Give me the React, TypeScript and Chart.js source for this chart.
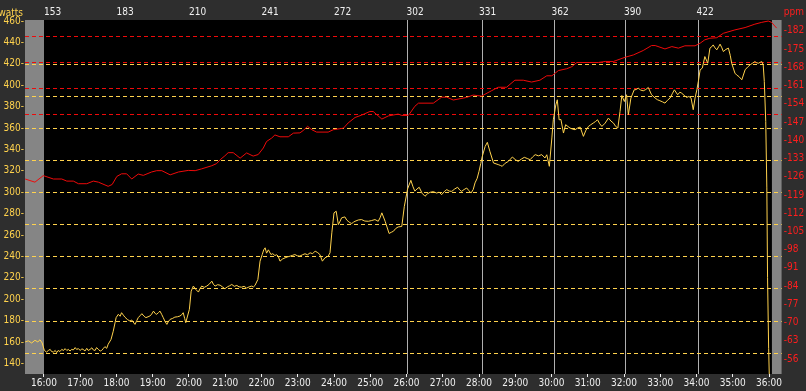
import React, { useEffect, useRef } from "react";
import { Chart, registerables } from "chart.js";

Chart.register(...registerables);

// ---------- data ----------
const minuteTicks = [16, 17, 18, 19, 20, 21, 22, 23, 24, 25, 26, 27, 28, 29, 30, 31, 32, 33, 34, 35, 36];
const lapLabelMinutes = [16, 18, 20, 22, 24, 26, 28, 30, 32, 34];
const lapLabels = ["153", "183", "210", "241", "272", "302", "331", "362", "390", "422"];
const lapLineMinutes = [26.02, 28.08, 30.06, 32.04, 34.05];
const wattTicks = [140, 160, 180, 200, 220, 240, 260, 280, 300, 320, 340, 360, 380, 400, 420, 440, 460];
const wattGrid = [150, 180, 210, 240, 270, 300, 330, 360, 390, 420];
const ppmTicks = [56, 63, 70, 77, 84, 91, 98, 105, 112, 119, 126, 133, 140, 147, 154, 161, 168, 175, 182];
const ppmZones = [150, 160, 170, 180];
const activeStart = 16;
const activeEnd = 36.08;
const timeRange = [15.476, 36.35];
const wattRange = [130, 461];
const ppmRange = [50.3, 186.1];

const powerMinutes = [
  15.48, 15.57, 15.66, 15.75, 15.83, 15.89, 15.95, 16.01, 16.07, 16.12, 16.17, 16.21, 16.26, 16.31, 16.35, 16.39,
  16.44, 16.49, 16.54, 16.58, 16.63, 16.67, 16.72, 16.76, 16.81, 16.86, 16.9, 16.95, 17.0, 17.04, 17.08, 17.13,
  17.18, 17.22, 17.27, 17.32, 17.36, 17.41, 17.45, 17.5, 17.55, 17.59, 17.64, 17.68, 17.73, 17.77, 17.85, 17.91,
  17.99, 18.05, 18.1, 18.14, 18.19, 18.23, 18.3, 18.37, 18.42, 18.46, 18.51, 18.56, 18.6, 18.65, 18.7, 18.76,
  18.81, 18.87, 18.92, 18.97, 19.02, 19.07, 19.11, 19.16, 19.2, 19.25, 19.29, 19.34, 19.39, 19.43, 19.48, 19.55,
  19.61, 19.68, 19.75, 19.8, 19.84, 19.88, 19.91, 19.96, 20.01, 20.06, 20.12, 20.19, 20.26, 20.3, 20.35, 20.42,
  20.49, 20.56, 20.63, 20.67, 20.72, 20.79, 20.86, 20.92, 20.99, 21.06, 21.12, 21.18, 21.25, 21.32, 21.38, 21.45,
  21.52, 21.59, 21.66, 21.73, 21.78, 21.82, 21.9, 21.96, 22.02, 22.06, 22.1, 22.14, 22.19, 22.26, 22.31, 22.37,
  22.42, 22.46, 22.51, 22.58, 22.65, 22.72, 22.79, 22.86, 22.92, 22.99, 23.06, 23.13, 23.2, 23.27, 23.34, 23.41,
  23.48, 23.55, 23.61, 23.68, 23.75, 23.84, 23.89, 23.94, 24.0, 24.06, 24.12, 24.17, 24.21, 24.3, 24.35, 24.39,
  24.44, 24.49, 24.54, 24.58, 24.67, 24.76, 24.85, 24.95, 25.04, 25.13, 25.22, 25.27, 25.32, 25.41, 25.52, 25.58,
  25.64, 25.7, 25.77, 25.87, 25.94, 26.03, 26.12, 26.18, 26.23, 26.29, 26.35, 26.43, 26.51, 26.58, 26.65, 26.74,
  26.83, 26.9, 26.97, 27.04, 27.11, 27.18, 27.25, 27.33, 27.41, 27.47, 27.52, 27.59, 27.66, 27.72, 27.78, 27.84,
  27.89, 27.95, 28.0, 28.05, 28.09, 28.17, 28.23, 28.3, 28.4, 28.47, 28.53, 28.59, 28.64, 28.72, 28.81, 28.87,
  28.92, 29.0, 29.08, 29.17, 29.25, 29.33, 29.41, 29.48, 29.55, 29.64, 29.73, 29.82, 29.87, 29.94, 30.01, 30.05,
  30.12, 30.16, 30.21, 30.26, 30.33, 30.39, 30.45, 30.51, 30.58, 30.65, 30.72, 30.79, 30.88, 30.95, 31.02, 31.08,
  31.15, 31.21, 31.27, 31.33, 31.39, 31.48, 31.57, 31.64, 31.71, 31.77, 31.83, 31.89, 31.94, 32.01, 32.07, 32.12,
  32.19, 32.28, 32.34, 32.39, 32.46, 32.53, 32.6, 32.67, 32.76, 32.86, 32.92, 32.99, 33.06, 33.13, 33.2, 33.27,
  33.33, 33.39, 33.48, 33.54, 33.59, 33.66, 33.73, 33.79, 33.85, 33.91, 33.96, 34.01, 34.05, 34.1, 34.16, 34.23,
  34.31, 34.37, 34.42, 34.46, 34.51, 34.56, 34.61, 34.65, 34.7, 34.74, 34.81, 34.88, 34.93, 34.97, 35.06, 35.11,
  35.17, 35.25, 35.34, 35.41, 35.48, 35.54, 35.61, 35.66, 35.71, 35.76, 35.8, 35.84, 35.87, 35.91, 35.94, 35.96,
  35.99, 36.01,
];
const powerWatts = [
  160, 161, 159, 161.5, 160, 162, 159, 152, 150.5, 152, 153, 151, 150.5, 152, 150, 152,
  151, 153, 152, 153.7, 152, 153, 151.5, 153, 152.5, 154.7, 153, 153.7, 152, 153.5, 153, 151.5,
  154, 152, 153, 154.5, 152.5, 152, 154.7, 153, 151.5, 152, 154, 155.6, 154, 157.8, 162.4, 170,
  182.7, 185.8, 184, 187.3, 185, 183.2, 181, 179.5, 180.5, 178.6, 176.4, 180, 182.7, 184.5, 186.4, 184,
  182.7, 183.5, 184.2, 186, 188.8, 186.5, 185.8, 187.5, 188.8, 185.5, 182.7, 179, 176.4, 179, 181.1, 182,
  183.2, 183.5, 184.2, 185.5, 187.3, 182, 178, 184.2, 190.4, 207.5, 212.2, 209, 206.6, 209.5, 212.2, 211,
  212.2, 214, 216.8, 214, 212.2, 213.5, 213, 211.5, 209.7, 211.5, 212.5, 213.7, 212, 212.8, 211.5, 211.2,
  212, 210.3, 211.5, 212.2, 211.5, 212.8, 218.4, 235.5, 241.7, 246, 248, 243, 246.1, 241.7, 242.5, 240.8,
  241.5, 240.2, 235.5, 237.5, 238.6, 239.5, 240.2, 241, 241.7, 240.5, 240.2, 241.5, 242.4, 241.5, 243.3, 242.5,
  244.9, 243.5, 241.7, 235.5, 238.6, 240.2, 243.3, 262, 280.7, 282.2, 269.7, 273, 276, 276.9, 274, 272.8,
  271.5, 270.7, 272, 272.8, 274, 274.4, 273, 272.8, 273.5, 274.4, 272.8, 276, 280.7, 272.8, 261.4, 262.5,
  263.5, 266, 267.5, 268, 286.8, 303, 311.1, 305, 301, 303, 304.6, 299, 296.2, 298.5, 299.9, 300.5,
  299.2, 300, 297.7, 300.5, 302.4, 301, 300.8, 303, 304.6, 302, 300.8, 302.5, 303.9, 301.5, 299.2, 302.5,
  308.7, 313, 319.5, 327, 333.5, 342.8, 346.6, 338.2, 327.3, 326.5, 325.8, 325, 324.2, 327, 328.8, 331,
  332.9, 330.5, 328.8, 331, 332.6, 331.5, 330.4, 333, 335.1, 334, 335.1, 332, 335, 324.2, 350.7, 367.7,
  381.7, 386.4, 367.7, 368, 355.3, 363.1, 361.5, 360, 359, 358.4, 360, 360.9, 352.2, 358, 361.5, 363,
  364.6, 366, 367.7, 364, 361.5, 364.6, 369.3, 366.5, 364.6, 361.5, 360, 375.5, 390.4, 384.8, 391.1, 372.4,
  388, 395.7, 396, 397.3, 395.5, 394.8, 396, 397.9, 391.1, 388, 386.5, 385.5, 384.5, 383.3, 386, 388,
  392, 395.7, 391.1, 393.5, 392.6, 390.5, 388.6, 389.5, 388, 377.1, 388, 395.7, 403.5, 414.4, 416, 426.8,
  420.6, 434.7, 436, 437.7, 435, 433.1, 436, 438.4, 435, 431.5, 433.5, 434.7, 428, 420.6, 411.3, 409.5,
  408.1, 405.1, 414.4, 417, 419.1, 420.5, 422.1, 421, 420.6, 421.5, 422.1, 419.1, 403.5, 366.2, 304, 220,
  154, 125,
];

const hrMinutes = [
  15.48, 15.75, 15.98, 16.26, 16.49, 16.63, 16.81, 16.95, 17.18, 17.36, 17.5, 17.77, 17.88, 18.01, 18.14, 18.28,
  18.42, 18.6, 18.74, 18.97, 19.11, 19.25, 19.48, 19.71, 19.98, 20.17, 20.35, 20.63, 20.76, 20.86, 20.99, 21.08,
  21.22, 21.41, 21.59, 21.77, 21.91, 22.05, 22.14, 22.28, 22.37, 22.51, 22.74, 22.88, 23.06, 23.15, 23.27, 23.39,
  23.52, 23.84, 23.98, 24.26, 24.39, 24.58, 24.76, 24.99, 25.08, 25.32, 25.5, 25.77, 25.87, 26.05, 26.1, 26.23,
  26.33, 26.74, 26.97, 27.11, 27.29, 27.66, 27.84, 28.07, 28.35, 28.53, 28.76, 28.99, 29.22, 29.45, 29.68, 29.87,
  30.01, 30.19, 30.42, 30.56, 30.7, 31.29, 31.48, 31.71, 32.03, 32.26, 32.53, 32.76, 32.86, 33.13, 33.32, 33.5,
  33.68, 33.96, 34.1, 34.23, 34.37, 34.56, 34.74, 35.06, 35.34, 35.61, 35.8, 35.98, 36.07, 36.21,
];
const hrPpm = [
  125.1, 123.9, 126.4, 125.1, 125.1, 124.3, 124.3, 123.3, 123.3, 124.3, 123.9, 122.3, 123, 126.1, 127.1, 127.1,
  125.1, 127, 126.5, 127.8, 128.3, 128.3, 126.7, 127.8, 128.4, 128.3, 129, 130.2, 131, 132.5, 134, 135.2,
  135.2, 133.1, 135.1, 133.9, 134.5, 137, 139.5, 140.8, 142, 141.3, 141.3, 142.7, 142.8, 143.7, 145.3, 144,
  143.1, 143.1, 144, 144.6, 146.6, 148.7, 149.6, 151, 151, 148.1, 149.3, 150, 149.5, 149.5, 150.4, 153,
  154.2, 154.2, 156.5, 156.5, 155.4, 156.4, 157.3, 156.9, 159, 160.3, 160.3, 163, 163, 162.3, 163, 164.7,
  164.7, 166.7, 167.4, 168.2, 169.8, 169.8, 170.2, 170.2, 171.8, 172.7, 174.4, 176.3, 176.3, 175, 175.9, 175.3,
  176.2, 176.2, 177.2, 178.5, 179.1, 179.3, 181, 182.3, 183.2, 184.5, 185.2, 185.7, 185.2, 183,
];

// ---------- styles ----------
const BG = "#2e2e2e";
const PLOT_BG = "#000000";
const REST_GRAY = "#858585";
const LAP_LINE = "#b0b0b0";
const YELLOW = "#ffd24d";
const RED_LINE = "#ee0a0a";
const RED_TEXT = "#ff1e1e";
const WHITE = "#f0f0f0";
const FONT_FAMILY = "'Liberation Sans Narrow', 'DejaVu Sans Condensed', 'Liberation Sans', sans-serif";

const fixedTicks = (values: number[]) => (axis: any) => {
  axis.ticks = values.map((v) => ({ value: v }));
};

const backdropPlugin = {
  id: "backdrop",
  beforeDraw(chart: any) {
    const { ctx, chartArea: a, scales } = chart;
    const x = scales.x;
    const yw = scales.y;
    const yp = scales.yR;
    ctx.save();
    ctx.fillStyle = BG;
    ctx.fillRect(0, 0, chart.width, chart.height);
    ctx.fillStyle = PLOT_BG;
    ctx.fillRect(a.left, a.top, a.right - a.left, a.bottom - a.top);

    const xs = x.getPixelForValue(activeStart);
    const xe = x.getPixelForValue(activeEnd);
    ctx.fillStyle = REST_GRAY;
    ctx.fillRect(a.left, a.top, xs - a.left, a.bottom - a.top);
    ctx.fillRect(xe, a.top, a.right - xe, a.bottom - a.top);

    ctx.lineWidth = 1;
    ctx.strokeStyle = LAP_LINE;
    ctx.setLineDash([]);
    lapLineMinutes.forEach((m) => {
      const px = Math.round(x.getPixelForValue(m)) + 0.5;
      ctx.beginPath();
      ctx.moveTo(px, a.top);
      ctx.lineTo(px, a.bottom);
      ctx.stroke();
    });

    ctx.setLineDash([4, 3]);
    ctx.strokeStyle = YELLOW;
    wattGrid.forEach((w) => {
      const py = Math.round(yw.getPixelForValue(w)) + 0.5;
      ctx.beginPath();
      ctx.moveTo(a.left, py);
      ctx.lineTo(a.right, py);
      ctx.stroke();
    });
    ctx.strokeStyle = RED_LINE;
    ppmZones.forEach((p) => {
      const py = Math.round(yp.getPixelForValue(p)) + 0.5;
      ctx.beginPath();
      ctx.moveTo(a.left, py);
      ctx.lineTo(a.right, py);
      ctx.stroke();
    });
    ctx.setLineDash([]);

    ctx.font = `10px ${FONT_FAMILY}`;
    ctx.textBaseline = "alphabetic";
    ctx.textAlign = "right";
    ctx.fillStyle = YELLOW;
    ctx.fillText("watts", a.left - 2, a.top - 4);
    ctx.textAlign = "left";
    ctx.fillStyle = RED_TEXT;
    ctx.fillText("ppm", a.right + 2, a.top - 5);
    ctx.restore();
  },
};

export default function App() {
  const canvasRef = useRef<HTMLCanvasElement | null>(null);

  useEffect(() => {
    const canvas = canvasRef.current;
    if (!canvas) return;
    const font = { family: FONT_FAMILY, size: 10 };
    const chart = new Chart(canvas, {
      type: "line",
      data: {
        datasets: [
          {
            label: "watts",
            data: powerMinutes.map((m, i) => ({ x: m, y: powerWatts[i] })),
            borderColor: YELLOW,
            borderWidth: 1,
            pointRadius: 0,
            tension: 0,
            xAxisID: "x",
            yAxisID: "y",
          },
          {
            label: "ppm",
            data: hrMinutes.map((m, i) => ({ x: m, y: hrPpm[i] })),
            borderColor: RED_LINE,
            borderWidth: 1,
            pointRadius: 0,
            tension: 0,
            xAxisID: "x",
            yAxisID: "yR",
          },
        ],
      },
      options: {
        animation: false,
        responsive: false,
        maintainAspectRatio: false,
        layout: { padding: 0 },
        plugins: { legend: { display: false }, tooltip: { enabled: false } },
        scales: {
          x: {
            type: "linear",
            position: "bottom",
            min: timeRange[0],
            max: timeRange[1],
            afterBuildTicks: fixedTicks(minuteTicks),
            afterFit: (s: any) => {
              s.height = 17;
            },
            ticks: {
              color: WHITE,
              font,
              padding: 0,
              autoSkip: false,
              maxRotation: 0,
              callback: (v: any) => `${v}:00`,
            },
            grid: { display: true, drawOnChartArea: false, drawTicks: true, tickLength: 3, color: WHITE },
            border: { display: false },
          },
          xTop: {
            type: "linear",
            position: "top",
            min: timeRange[0],
            max: timeRange[1],
            afterBuildTicks: fixedTicks(lapLabelMinutes),
            afterFit: (s: any) => {
              s.height = 20;
            },
            ticks: {
              color: WHITE,
              font,
              padding: 2,
              align: "start",
              autoSkip: false,
              maxRotation: 0,
              callback: (_v: any, i: number) => lapLabels[i],
            },
            grid: { display: false, drawTicks: false },
            border: { display: false },
          },
          y: {
            type: "linear",
            position: "left",
            min: wattRange[0],
            max: wattRange[1],
            afterBuildTicks: fixedTicks(wattTicks),
            afterFit: (s: any) => {
              s.width = 25;
            },
            ticks: { color: YELLOW, font, padding: 1, autoSkip: false, callback: (v: any) => `${v}-` },
            grid: { display: false, drawTicks: false },
            border: { display: false },
          },
          yR: {
            type: "linear",
            position: "right",
            min: ppmRange[0],
            max: ppmRange[1],
            afterBuildTicks: fixedTicks(ppmTicks),
            afterFit: (s: any) => {
              s.width = 24.3;
            },
            ticks: { color: RED_TEXT, font, padding: 2, autoSkip: false, callback: (v: any) => `-${v}` },
            grid: { display: false, drawTicks: false },
            border: { display: false },
          },
        },
      },
      plugins: [backdropPlugin],
    } as any);
    return () => chart.destroy();
  }, []);

  return (
    <div style={{ position: "fixed", left: 0, top: 0, width: 806, height: 391, background: BG }}>
      <canvas ref={canvasRef} width={806} height={391} style={{ display: "block", width: 806, height: 391 }} />
    </div>
  );
}
